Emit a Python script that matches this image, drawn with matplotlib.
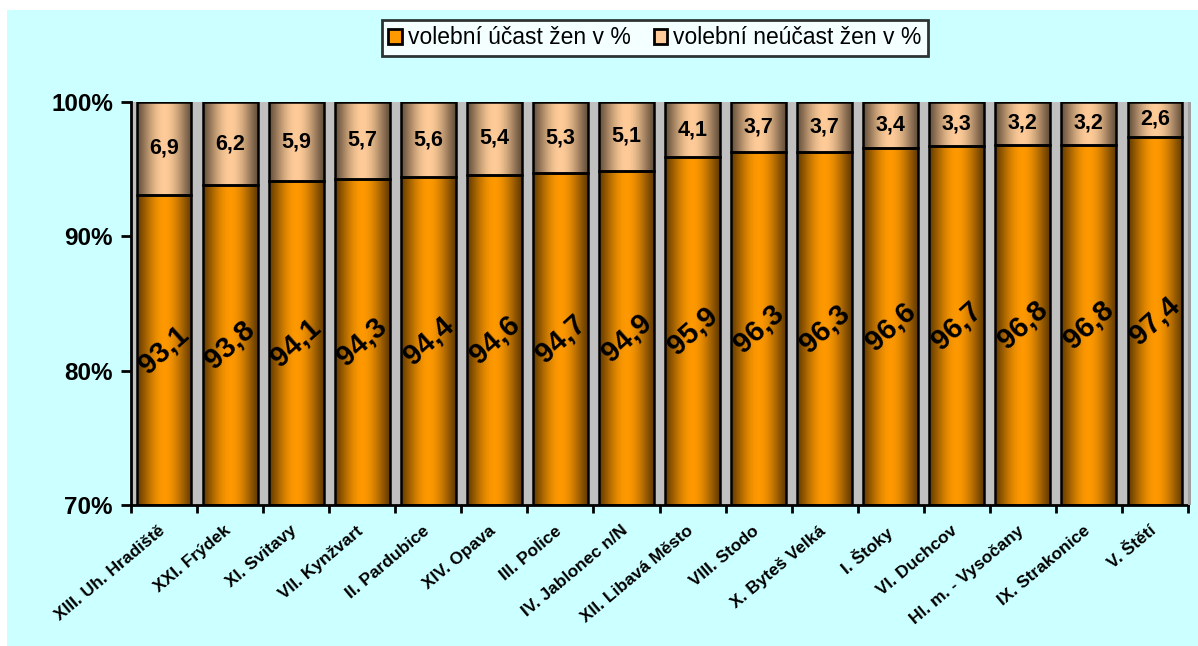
import numpy as np
import matplotlib
matplotlib.use('Agg')
import matplotlib.pyplot as plt
import matplotlib.transforms as mtransforms
from matplotlib.patches import Rectangle

plt.rcParams['font.family'] = ['Liberation Sans', 'DejaVu Sans']

# data
okrsky = ['XIII. Uh. Hradiště', 'XXI. Frýdek', 'XI. Svitavy', 'VII. Kynžvart',
          'II. Pardubice', 'XIV. Opava', 'III. Police', 'IV. Jablonec n/N',
          'XII. Libavá Město', 'VIII. Stodo', 'X. Byteš Velká', 'I. Štoky',
          'VI. Duchcov', 'Hl. m. - Vysočany', 'IX. Strakonice', 'V. Štětí']
ucast = [93.1, 93.8, 94.1, 94.3, 94.4, 94.6, 94.7, 94.9,
         95.9, 96.3, 96.3, 96.6, 96.7, 96.8, 96.8, 97.4]
neucast = [6.9, 6.2, 5.9, 5.7, 5.6, 5.4, 5.3, 5.1,
           4.1, 3.7, 3.7, 3.4, 3.3, 3.2, 3.2, 2.6]

ymin = 70
c_ucast = np.array([255, 153, 0]) / 255
c_neucast = np.array([255, 204, 153]) / 255

fig = plt.figure(figsize=(11.98, 6.46), dpi=100)
fig.patch.set_facecolor('white')
fig.add_artist(Rectangle((7 / 1198, 0), 1, 1 - 10 / 646, transform=fig.transFigure,
                         facecolor='#CCFFFF', edgecolor='none', zorder=-10))

ax = fig.add_axes([131 / 1198, 1 - 505 / 646, (1188 - 131) / 1198, (505 - 102) / 646])
ax.set_facecolor('#C0C0C0')
# small shadow on the right of the plot area
fig.add_artist(Rectangle((1188 / 1198, 1 - 505 / 646), 3 / 1198, (505 - 102) / 646,
                         transform=fig.transFigure, facecolor='#A0A0A0', edgecolor='none'))

x = np.arange(len(okrsky))
w = 0.83
b1 = ax.bar(x, np.array(ucast) - ymin, w, bottom=ymin, color=c_ucast, zorder=2,
            label='volební účast žen v %')
b2 = ax.bar(x, neucast, w, bottom=ucast, color=c_neucast, zorder=2,
            label='volební neúčast žen v %')

# cylinder-like shading, dark sides, bright middle
t = np.linspace(0, 1, 56)
shade = 0.4 + 0.6 * np.sin(np.pi * t) ** 1.2
for bars, col in ((b1, c_ucast), (b2, c_neucast)):
    grad = np.clip(shade[None, :, None] * col[None, None, :], 0, 1)
    for p in bars:
        x0, y0 = p.get_x(), p.get_y()
        im = ax.imshow(grad, extent=[x0, x0 + p.get_width(), y0, y0 + p.get_height()],
                       aspect='auto', zorder=2.1, interpolation='nearest')
        im.set_clip_path(p)
# outlines
ax.bar(x, np.array(ucast) - ymin, w, bottom=ymin, fill=False, edgecolor='black',
       linewidth=1.8, zorder=3)
ax.bar(x, neucast, w, bottom=ucast, fill=False, edgecolor='black',
       linewidth=1.8, zorder=3)

for i in x:
    ax.text(i, (ymin + ucast[i]) / 2, f'{ucast[i]:.1f}'.replace('.', ','),
            rotation=42, ha='center', va='center', fontsize=21, fontweight='bold', zorder=4)
    ax.text(i, ucast[i] + neucast[i] / 2, f'{neucast[i]:.1f}'.replace('.', ','),
            ha='center', va='center', fontsize=15.5, fontweight='bold', zorder=4)

ax.set_xlim(-0.5, len(x) - 0.5)
ax.set_ylim(ymin, 100)
ax.set_yticks([70, 80, 90, 100])
ax.set_yticklabels(['70%', '80%', '90%', '100%'], fontsize=17.5, fontweight='bold')
ax.tick_params(axis='y', length=7, width=2, pad=6)

ax.set_xticks(np.arange(-0.5, len(x)), labels=[''] * (len(x) + 1))
ax.tick_params(axis='x', which='major', length=6, width=2)
ax.set_xticks(x, minor=True)
ax.set_xticklabels(okrsky, minor=True, rotation=40, ha='right', va='top',
                   rotation_mode='anchor', fontsize=12.5, fontweight='bold')
ax.tick_params(axis='x', which='minor', length=0, pad=13)
shift = mtransforms.ScaledTranslation(-0.06, 0, fig.dpi_scale_trans)
for lbl in ax.get_xticklabels(minor=True):
    lbl.set_transform(lbl.get_transform() + shift)

for s in ['top', 'right']:
    ax.spines[s].set_visible(False)
ax.spines['left'].set_linewidth(2)
ax.spines['bottom'].set_linewidth(2)

leg = fig.legend(handles=[b1, b2], loc='center', bbox_to_anchor=(655 / 1198, 1 - 38 / 646),
                 ncol=2, fontsize=16.5, frameon=True, fancybox=False, edgecolor='black',
                 handlelength=0.6, handleheight=0.6, handletextpad=0.25, columnspacing=1.0,
                 borderpad=0.3)
leg.get_frame().set_linewidth(2)
for h in leg.legend_handles:
    h.set_edgecolor('black')
    h.set_linewidth(2)

fig.savefig('out.png', dpi=100)
